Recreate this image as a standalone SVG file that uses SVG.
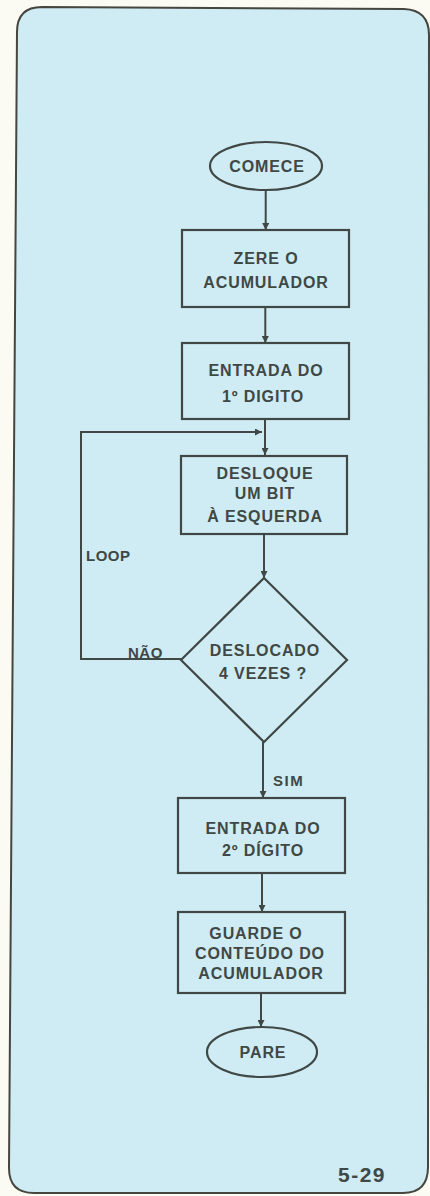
<svg xmlns="http://www.w3.org/2000/svg" width="430" height="1196" viewBox="0 0 430 1196">
<defs>
<style>
.ln{stroke:#3f4844;stroke-width:2;fill:none}
.nd{stroke:#3f4844;stroke-width:2.2;fill:none}
.t{font-family:"Liberation Sans",Arial,sans-serif;font-weight:bold;font-size:16px;fill:#3f4844;letter-spacing:0.9px;text-anchor:middle}
.s{font-family:"Liberation Sans",Arial,sans-serif;font-weight:bold;font-size:15px;fill:#3f4844;letter-spacing:0.5px}
</style>
<marker id="ah" viewBox="0 0 10 10" refX="10" refY="5" markerWidth="10" markerHeight="7" markerUnits="userSpaceOnUse" orient="auto">
<path d="M0,0 L10,5 L0,10 Z" fill="#3f4844"/>
</marker>
</defs>
<rect width="430" height="1196" fill="#fbfaf3"/>
<path id="panel" d="M42,7 L404,9 Q429,10 429,35 L428,1167 Q428,1193 403,1193 L34,1193 Q9,1193 9,1168 L17,32 Q17,7 42,7 Z" fill="#cfebf3" stroke="#45463f" stroke-width="2"/>
<g id="connectors">
<line class="ln" x1="265.7" y1="190" x2="265.7" y2="230" marker-end="url(#ah)"/>
<line class="ln" x1="265.3" y1="307" x2="265.3" y2="343" marker-end="url(#ah)"/>
<line class="ln" x1="265" y1="419" x2="265" y2="455" marker-end="url(#ah)"/>
<line class="ln" x1="264" y1="534" x2="264" y2="578" marker-end="url(#ah)"/>
<polyline class="ln" points="181,659 81,659 81,432 262,432" marker-end="url(#ah)"/>
<line class="ln" x1="263" y1="742" x2="263" y2="798" marker-end="url(#ah)"/>
<line class="ln" x1="262" y1="873" x2="262" y2="912" marker-end="url(#ah)"/>
<line class="ln" x1="261" y1="993" x2="261" y2="1027" marker-end="url(#ah)"/>
<text class="s" x="86" y="560.5">LOOP</text>
<text class="s" x="128" y="657.5">NÃO</text>
<text class="s" x="273" y="785.5" style="letter-spacing:1.5px">SIM</text>
</g>
<g id="comece">
<ellipse class="nd" cx="266" cy="166" rx="56" ry="24"/>
<text class="t" x="267" y="172">COMECE</text>
</g>
<g id="zere">
<rect class="nd" x="182" y="230" width="167" height="77"/>
<text class="t" x="266" y="264">ZERE O</text>
<text class="t" x="266" y="288">ACUMULADOR</text>
</g>
<g id="entrada1">
<rect class="nd" x="182" y="343" width="167" height="76"/>
<text class="t" x="266" y="376">ENTRADA DO</text>
<text class="t" x="263" y="402">1º DIGITO</text>
</g>
<g id="desloque">
<rect class="nd" x="181" y="456" width="166" height="78"/>
<text class="t" x="265" y="479">DESLOQUE</text>
<text class="t" x="265" y="499">UM BIT</text>
<text class="t" x="265" y="522">À ESQUERDA</text>
</g>
<g id="decisao">
<polygon class="nd" points="264,578 347,660 264,742 181,660"/>
<text class="t" x="265" y="656">DESLOCADO</text>
<text class="t" x="263" y="679">4 VEZES ?</text>
</g>
<g id="entrada2">
<rect class="nd" x="178" y="798" width="167" height="75"/>
<text class="t" x="263" y="834">ENTRADA DO</text>
<text class="t" x="263" y="856">2º DÍGITO</text>
</g>
<g id="guarde">
<rect class="nd" x="178" y="912" width="167" height="81"/>
<text class="t" x="256" y="939">GUARDE O</text>
<text class="t" x="260" y="959">CONTEÚDO DO</text>
<text class="t" x="261" y="979">ACUMULADOR</text>
</g>
<g id="pare">
<ellipse class="nd" cx="262" cy="1052" rx="55" ry="25"/>
<text class="t" x="263" y="1058">PARE</text>
</g>
<text x="362" y="1182" style="font-family:'Liberation Sans',Arial,sans-serif;font-weight:bold;font-size:21px;fill:#3f4844;text-anchor:middle;letter-spacing:1.5px">5-29</text>
</svg>
